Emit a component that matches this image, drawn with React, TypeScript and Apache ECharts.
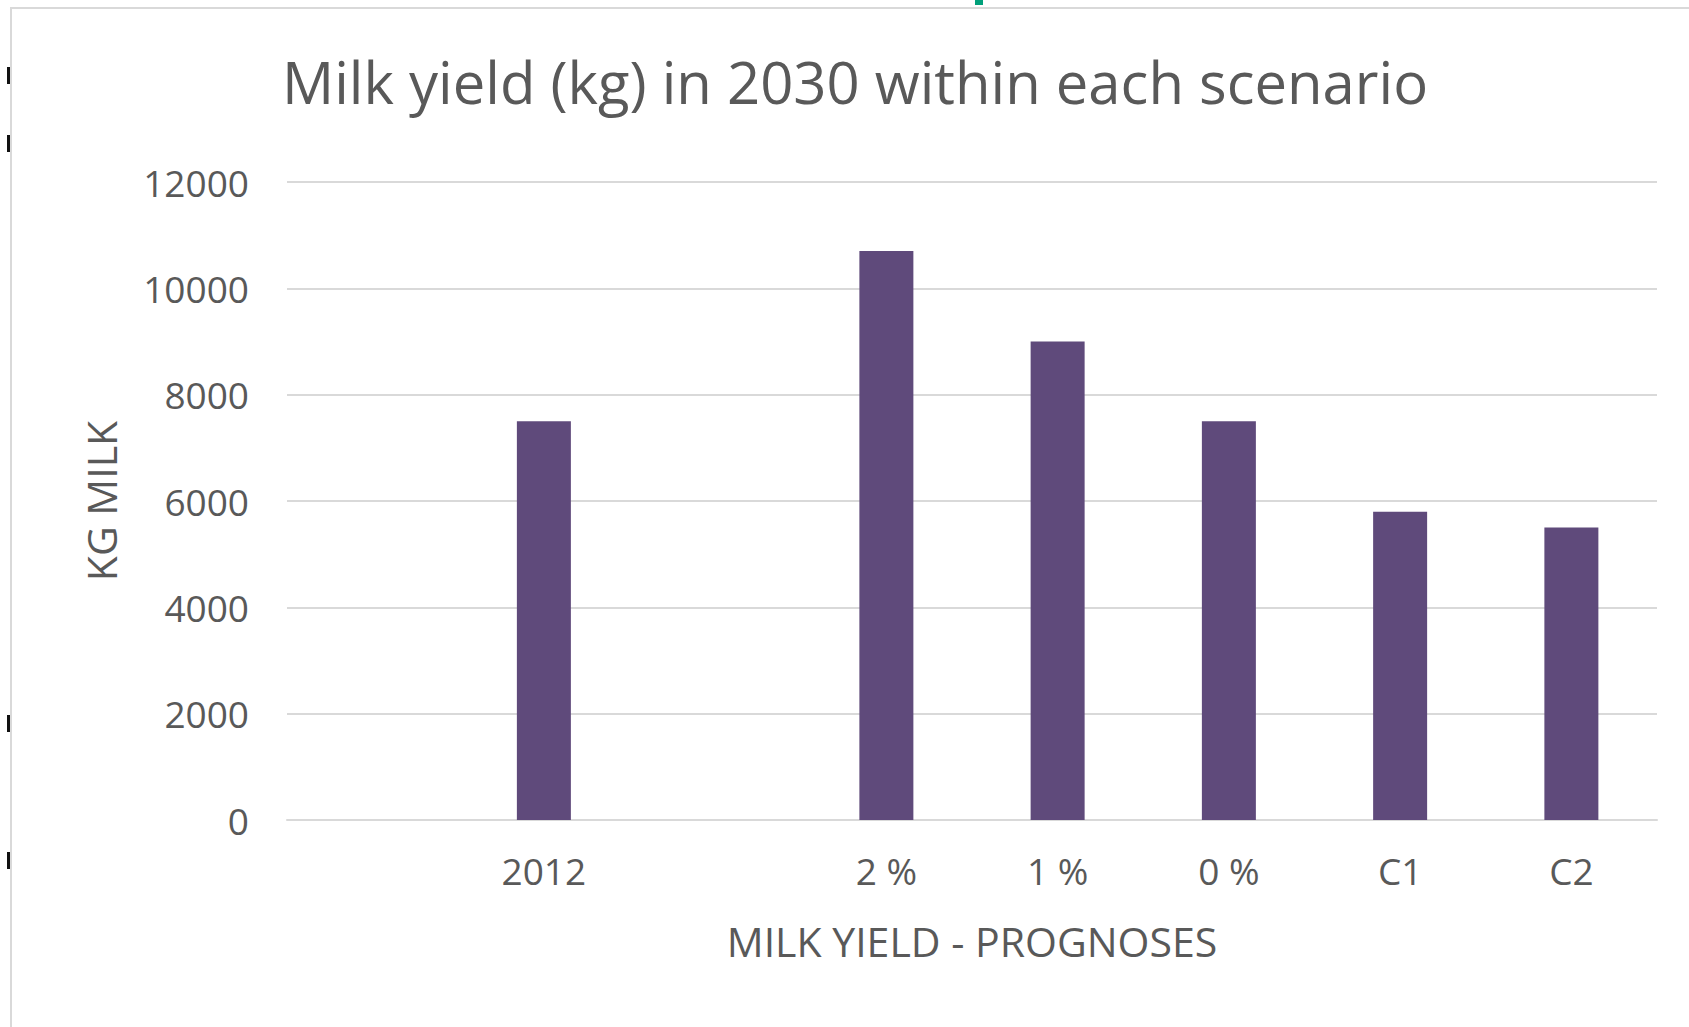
import React, { useEffect, useRef } from "react";
import * as echarts from "echarts";

const categories = ["", "2012", "", "2 %", "1 %", "0 %", "C1", "C2"];
const milkYield = [null, 7500, null, 10700, 9000, 7500, 5800, 5500];
const titleText = "Milk yield (kg) in 2030 within each scenario";
const xName = "MILK YIELD - PROGNOSES";
const yName = "KG MILK";

const FONT = "'Open Sans', sans-serif";
const TEXT = "#595959";
const GRID = "#d9d9d9";

export default function App() {
  const ref = useRef<HTMLDivElement>(null);
  useEffect(() => {
    if (!ref.current) return;
    const chart = echarts.init(ref.current, undefined, { renderer: "svg" });
    chart.setOption({
      animation: false,
      backgroundColor: "#ffffff",
      title: {
        text: titleText,
        left: 277,
        top: 47,
        textStyle: { fontFamily: FONT, fontSize: 58, fontWeight: "normal", color: TEXT },
      },
      graphic: [
        {
          type: "rect",
          shape: { x: 11, y: 8, width: 1720, height: 1100 },
          style: { fill: "none", stroke: GRID, lineWidth: 2 },
          silent: true,
        },
        { type: "rect", shape: { x: 975, y: 0, width: 8, height: 5 }, style: { fill: "#00a07a" } },
        { type: "rect", shape: { x: 7, y: 67, width: 3, height: 17 }, style: { fill: "#111" } },
        { type: "rect", shape: { x: 7, y: 135, width: 3, height: 17 }, style: { fill: "#111" } },
        { type: "rect", shape: { x: 7, y: 715, width: 3, height: 17 }, style: { fill: "#111" } },
        { type: "rect", shape: { x: 7, y: 852, width: 3, height: 17 }, style: { fill: "#111" } },
      ],
      grid: { left: 287, right: 32, top: 182, bottom: 207, containLabel: false },
      xAxis: {
        type: "category",
        data: categories,
        name: xName,
        nameLocation: "middle",
        nameGap: 100,
        nameTextStyle: { fontFamily: FONT, fontSize: 41, color: TEXT },
        axisLine: { lineStyle: { color: GRID, width: 2 } },
        axisTick: { show: false },
        axisLabel: { fontFamily: FONT, fontSize: 37, color: TEXT, margin: 32, interval: 0 },
      },
      yAxis: {
        type: "value",
        min: 0,
        max: 12000,
        interval: 2000,
        name: yName,
        nameLocation: "middle",
        nameRotate: 90,
        nameGap: 166,
        nameTextStyle: { fontFamily: FONT, fontSize: 41, color: TEXT },
        axisLine: { show: false },
        axisTick: { show: false },
        axisLabel: {
          fontFamily: FONT,
          fontSize: 37,
          color: TEXT,
          margin: 38,
          formatter: (v: number) => String(v),
        },
        splitLine: { lineStyle: { color: GRID, width: 2 } },
      },
      series: [
        {
          type: "bar",
          data: milkYield,
          barWidth: 54,
          itemStyle: { color: "#5f4a7b" },
        },
      ],
    });
    return () => chart.dispose();
  }, []);
  return (
    <div
      ref={ref}
      style={{ position: "fixed", left: 0, top: 0, width: 1689, height: 1027 }}
    />
  );
}
